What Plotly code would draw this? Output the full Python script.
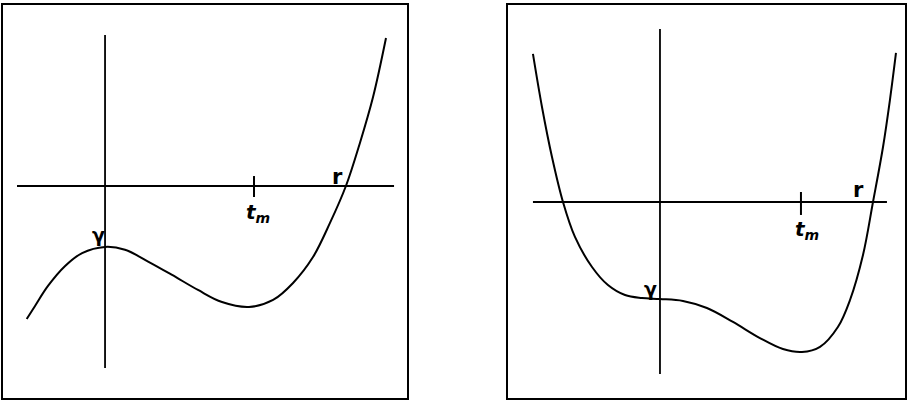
import plotly.graph_objects as go

# ---- data (t: horizontal, y: vertical; t_m = 1) ----
left_t = [-0.526, -0.470, -0.383, -0.268, -0.154, 0.0, 0.134, 0.289, 0.450, 0.624,
          0.785, 0.966, 1.128, 1.262, 1.396, 1.510, 1.617, 1.711, 1.799, 1.886]
left_y = [-0.893, -0.805, -0.671, -0.537, -0.450, -0.409, -0.428, -0.507, -0.597, -0.698,
          -0.779, -0.812, -0.765, -0.651, -0.477, -0.248, 0.0, 0.289, 0.597, 0.993]

right_t = [-0.901, -0.837, -0.766, -0.688, -0.603, -0.482, -0.369, -0.248, -0.128, 0.0,
           0.163, 0.333, 0.518, 0.709, 0.872, 1.007, 1.135, 1.262, 1.348, 1.440,
           1.511, 1.582, 1.631, 1.674]
right_y = [1.050, 0.674, 0.319, 0.0, -0.248, -0.461, -0.589, -0.660, -0.681, -0.688,
           -0.702, -0.752, -0.851, -0.965, -1.043, -1.064, -1.028, -0.887, -0.695, -0.376,
           0.0, 0.390, 0.723, 1.057]

# axis extents (in data units) for each panel
left_haxis_t = [-0.591, 1.940]
left_vaxis_y = [-1.221, 1.013]
right_haxis_t = [-0.901, 1.610]
right_vaxis_y = [-1.220, 1.227]

t_m = 1.0
left_tick_y = [-0.074, 0.067]
right_tick_y = [-0.092, 0.071]

# label positions
left_labels = {"gamma": (-0.045, -0.33), "tm": (1.03, -0.18), "r": (1.56, 0.06)}
right_labels = {"gamma": (-0.064, -0.62), "tm": (1.04, -0.20), "r": (1.41, 0.085)}

fig = go.Figure()
W, H = 908, 401

line_c = "black"

def add_panel(xa, ya, ct, cy, ht, vy, tick_y, labels):
    fig.add_trace(go.Scatter(x=ht, y=[0, 0], mode="lines", line=dict(color=line_c, width=1.8),
                             xaxis=xa, yaxis=ya, hoverinfo="skip"))
    fig.add_trace(go.Scatter(x=[0, 0], y=vy, mode="lines", line=dict(color=line_c, width=1.8),
                             xaxis=xa, yaxis=ya, hoverinfo="skip"))
    fig.add_trace(go.Scatter(x=[t_m, t_m], y=tick_y, mode="lines", line=dict(color=line_c, width=2),
                             xaxis=xa, yaxis=ya, hoverinfo="skip"))
    fig.add_trace(go.Scatter(x=ct, y=cy, mode="lines", line=dict(color=line_c, width=2, shape="spline", smoothing=1.0),
                             xaxis=xa, yaxis=ya, hoverinfo="skip"))
    fnt = dict(family="DejaVu Sans", color="black")
    gx, gy = labels["gamma"]
    fig.add_annotation(x=gx, y=gy, xref=xa, yref=ya, text="<b>γ</b>", showarrow=False,
                       font=dict(size=19, **fnt))
    tx, ty = labels["tm"]
    fig.add_annotation(x=tx, y=ty, xref=xa, yref=ya, text="<b><i>t</i><sub><i>m</i></sub></b>",
                       showarrow=False, font=dict(size=20, **fnt))
    rx, ry = labels["r"]
    fig.add_annotation(x=rx, y=ry, xref=xa, yref=ya, text="<b>r</b>", showarrow=False,
                       font=dict(size=21, **fnt))

add_panel("x", "y", left_t, left_y, left_haxis_t, left_vaxis_y, left_tick_y, left_labels)
add_panel("x2", "y2", right_t, right_y, right_haxis_t, right_vaxis_y, right_tick_y, right_labels)

ax_common = dict(showgrid=False, zeroline=False, showticklabels=False, ticks="",
                 showline=True, linecolor="black", linewidth=2, mirror=True, fixedrange=True)

ydom = [1 - 398 / H, 1 - 5 / H]
fig.update_layout(
    width=W, height=H,
    margin=dict(l=0, r=0, t=0, b=0),
    paper_bgcolor="white", plot_bgcolor="white",
    showlegend=False,
    xaxis=dict(domain=[3 / W, 407 / W], range=[-0.685, 2.027], anchor="y", **ax_common),
    yaxis=dict(domain=ydom, range=[-1.423, 1.215], anchor="x", **ax_common),
    xaxis2=dict(domain=[508 / W, 905 / W], range=[-1.078, 1.738], anchor="y2", **ax_common),
    yaxis2=dict(domain=ydom, range=[-1.390, 1.397], anchor="x2", **ax_common),
)

fig.write_html("out.html", config={"displayModeBar": False},
               post_script="document.body.style.margin='0px';document.body.style.overflow='hidden';")
